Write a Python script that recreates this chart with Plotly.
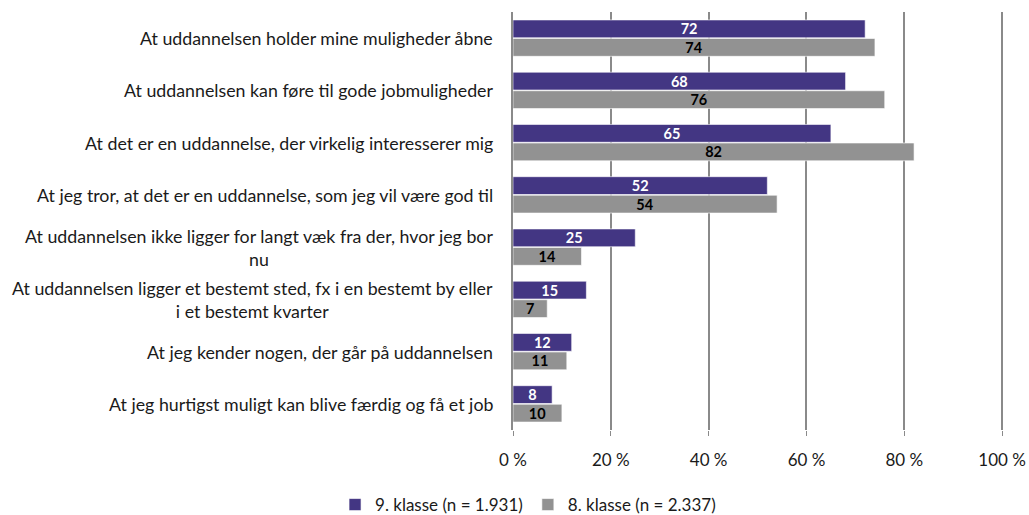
import plotly.graph_objects as go

categories = [
    "At uddannelsen holder mine muligheder åbne",
    "At uddannelsen kan føre til gode jobmuligheder",
    "At det er en uddannelse, der virkelig interesserer mig",
    "At jeg tror, at det er en uddannelse, som jeg vil være god til",
    "At uddannelsen ikke ligger for langt væk fra der, hvor jeg bor<br>nu",
    "At uddannelsen ligger et bestemt sted, fx i en bestemt by eller<br>i et bestemt kvarter",
    "At jeg kender nogen, der går på uddannelsen",
    "At jeg hurtigst muligt kan blive færdig og få et job",
]
klasse9 = [72, 68, 65, 52, 25, 15, 12, 8]
klasse8 = [74, 76, 82, 54, 14, 7, 11, 10]
series_names = ["9. klasse (n = 1.931)", "8. klasse (n = 2.337)"]
x_ticks = [0, 20, 40, 60, 80, 100]
x_tick_labels = ["0 %", "20 %", "40 %", "60 %", "80 %", "100 %"]

FONT = "Lato, 'Open Sans', sans-serif"
PURPLE = "#433683"
GRAY = "#929292"

fig = go.Figure()
fig.add_trace(go.Bar(
    y=list(range(len(categories))), x=klasse9, orientation="h", name=series_names[0],
    marker=dict(color=PURPLE, line=dict(color="#ffffff", width=0.6)),
    text=[str(v) for v in klasse9], textposition="inside", insidetextanchor="middle",
    textangle=0, constraintext="none",
    textfont=dict(color="white", size=14.5, family=FONT, weight="bold"),
))
fig.add_trace(go.Bar(
    y=list(range(len(categories))), x=klasse8, orientation="h", name=series_names[1],
    marker=dict(color=GRAY, line=dict(color="#ffffff", width=0.6)),
    text=[str(v) for v in klasse8], textposition="inside", insidetextanchor="middle",
    textangle=0, constraintext="none",
    textfont=dict(color="black", size=14.5, family=FONT, weight="bold"),
))

for i, c in enumerate(categories):
    fig.add_annotation(
        x=0, xref="paper", y=i, yref="y", text=c, showarrow=False,
        xanchor="right", yanchor="middle", align="center", xshift=-18,
        font=dict(family=FONT, size=17.8, color="#1a1a1a"),
    )

fig.update_layout(
    width=1029, height=515,
    margin=dict(l=513, r=22, t=12, b=85, autoexpand=False),
    plot_bgcolor="white", paper_bgcolor="white",
    barmode="group", bargap=0.29, bargroupgap=0.04,
    font=dict(family=FONT, size=17, color="#1a1a1a"),
    showlegend=True,
    legend=dict(orientation="h", xref="container", yref="container",
                x=0.3256, xanchor="left", y=0.0194, yanchor="middle",
                font=dict(family=FONT, size=17, color="#1a1a1a"),
                itemwidth=30, tracegroupgap=0),
    xaxis=dict(range=[0, 101], tickvals=x_ticks, ticktext=x_tick_labels,
               showgrid=True, gridcolor="#8a8a8a", gridwidth=2,
               ticks="outside", ticklen=5, tickcolor="#8a8a8a", tickwidth=1,
               ticklabelstandoff=10, zeroline=False, showline=False,
               tickfont=dict(family=FONT, size=17, color="#1a1a1a")),
    yaxis=dict(range=[len(categories) - 0.5, -0.5], showticklabels=False,
               showgrid=False, zeroline=False, showline=True, linecolor="#8a8a8a",
               linewidth=2, ticks=""),
)

fig.write_html("out.html", config={"displayModeBar": False},
               post_script="document.body.style.margin='0';document.body.style.overflow='hidden';")
